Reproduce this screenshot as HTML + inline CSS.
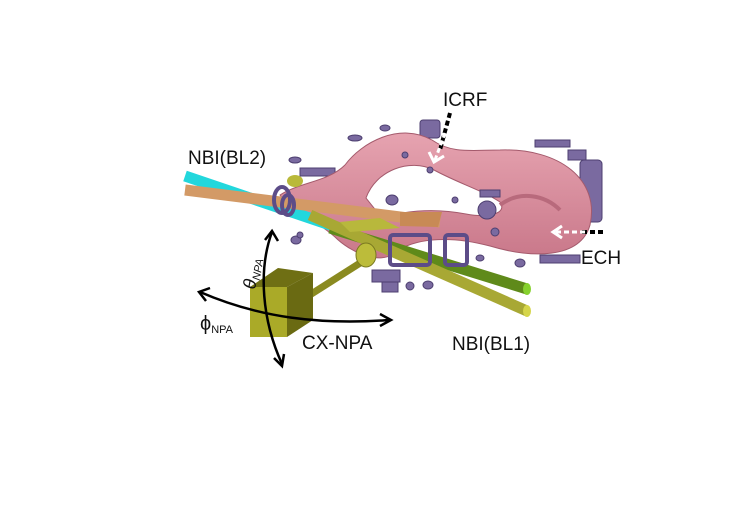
<!DOCTYPE html>
<html><head><meta charset="utf-8"><style>
html,body{margin:0;padding:0;background:#fff;width:750px;height:511px;overflow:hidden}
svg{display:block}
text{font-family:"Liberation Sans",sans-serif;fill:#111}
</style></head><body>
<svg width="750" height="511" viewBox="0 0 750 511">
<defs>
<linearGradient id="pk" x1="0" y1="0" x2="0" y2="1"><stop offset="0" stop-color="#e6a3b0"/><stop offset="1" stop-color="#c9788a"/></linearGradient>
</defs>
<g fill="#7a6aa0" stroke="#4d3f70" stroke-width="1">
<ellipse cx="355" cy="138" rx="7" ry="3"/><ellipse cx="385" cy="128" rx="5" ry="3"/><ellipse cx="378" cy="158" rx="5" ry="3"/>
<rect x="420" y="120" width="20" height="18" rx="3"/><ellipse cx="295" cy="160" rx="6" ry="3"/>
<rect x="300" y="168" width="35" height="8"/><ellipse cx="296" cy="240" rx="5" ry="4"/><ellipse cx="300" cy="235" rx="3" ry="3"/>
<rect x="535" y="140" width="35" height="7"/><rect x="568" y="150" width="18" height="10"/>
<rect x="580" y="160" width="22" height="62" rx="4"/><ellipse cx="570" cy="230" rx="10" ry="9"/>
<rect x="540" y="255" width="40" height="8"/><ellipse cx="520" cy="263" rx="5" ry="4"/>
<ellipse cx="410" cy="286" rx="4" ry="4"/><ellipse cx="428" cy="285" rx="5" ry="4"/>
<rect x="372" y="270" width="28" height="12"/><rect x="382" y="282" width="16" height="10"/>
<ellipse cx="480" cy="258" rx="4" ry="3"/><ellipse cx="437" cy="268" rx="5" ry="3"/>
<ellipse cx="345" cy="180" rx="5" ry="3"/>
</g>
<path fill="url(#pk)" stroke="#a45a6c" stroke-width="1" fill-rule="evenodd"
d="M280,195 C300,182 328,182 345,165 C362,142 400,122 432,140 C452,154 472,150 500,150 C560,148 600,180 590,225 C580,260 530,258 490,246 C445,234 412,240 396,252 C380,266 350,252 335,237 C312,217 290,210 280,195 Z
M366,198 C376,170 410,158 434,170 C460,184 482,190 500,202 C508,214 488,218 466,214 C430,207 400,212 382,218 Z"/>
<path d="M500,205 C520,190 545,195 560,210" stroke="#b86a7c" stroke-width="4" fill="none"/>
<g fill="#7a6aa0" stroke="#4d3f70" stroke-width="1">
<ellipse cx="392" cy="200" rx="6" ry="5"/><ellipse cx="455" cy="200" rx="3" ry="3"/><ellipse cx="487" cy="210" rx="9" ry="9"/>
<rect x="480" y="190" width="20" height="7"/><ellipse cx="430" cy="170" rx="3" ry="3"/><ellipse cx="405" cy="155" rx="3" ry="3"/>
<ellipse cx="420" cy="220" rx="3" ry="3"/><ellipse cx="495" cy="232" rx="4" ry="4"/>
</g>
<line x1="185" y1="176" x2="345" y2="230" stroke="#22d7dc" stroke-width="11"/>
<line x1="185" y1="190" x2="440" y2="222" stroke="#d39a66" stroke-width="11"/>
<polygon points="400,212 442,212 438,227 400,226" fill="#c88a55"/>
<line x1="330" y1="228" x2="527" y2="289" stroke="#5f8a1a" stroke-width="11"/>
<ellipse cx="527" cy="289" rx="4" ry="6" fill="#86d12e"/>
<line x1="310" y1="215" x2="527" y2="311" stroke="#a8a834" stroke-width="11"/>
<ellipse cx="527" cy="311" rx="4" ry="6" fill="#d5d54a"/>
<polygon points="340,222 380,218 400,228 350,232" fill="#b8b83c"/>
<g fill="none" stroke="#5c4c88" stroke-width="4">
<rect x="390" y="235" width="40" height="30" rx="3"/><rect x="445" y="235" width="22" height="30" rx="3"/>
<ellipse cx="282" cy="200" rx="8" ry="13"/><ellipse cx="288" cy="205" rx="6" ry="10"/>
</g>
<ellipse cx="295" cy="181" rx="8" ry="6" fill="#b9b93a"/>
<line x1="305" y1="298" x2="368" y2="258" stroke="#8a8a20" stroke-width="7"/>
<ellipse cx="366" cy="255" rx="10" ry="12" fill="#bcbc3a" stroke="#7a7a20"/>
<polygon points="250,287 278,268 313,273 287,287" fill="#6f6f14"/>
<polygon points="287,287 313,273 313,320 287,337" fill="#6a6a12"/>
<rect x="250" y="287" width="37" height="50" fill="#aaaa28"/>
<g fill="none" stroke="#000" stroke-width="2.5">
<path d="M272,232 C258,270 262,320 282,364"/>
<path d="M265,240 L272,231 L278,241"/><path d="M274,358 L282,366 L284,354"/>
<path d="M200,292 C260,318 320,325 390,320"/>
<path d="M210,288 L199,292 L206,301"/><path d="M380,314 L391,320 L380,326"/>
</g>
<path d="M450,113 L440,150" stroke="#000" stroke-width="4" stroke-dasharray="5,3"/>
<path d="M445,133 L435,160" stroke="#fff" stroke-width="3" stroke-dasharray="5,3"/>
<path d="M429,152 L434,162 L444,156" stroke="#fff" stroke-width="3" fill="none"/>
<path d="M603,232 L580,232" stroke="#000" stroke-width="4" stroke-dasharray="5,3"/>
<path d="M585,232 L555,232" stroke="#fff" stroke-width="3" stroke-dasharray="5,3"/>
<path d="M562,226 L553,232 L562,238" stroke="#fff" stroke-width="3" fill="none"/>
<text x="188" y="164" font-size="19">NBI(BL2)</text>
<text x="443" y="106" font-size="19">ICRF</text>
<text x="581" y="264" font-size="19">ECH</text>
<text x="452" y="350" font-size="19">NBI(BL1)</text>
<text x="302" y="349" font-size="19">CX-NPA</text>
<text transform="translate(255,290) rotate(-80)" font-size="18" font-style="italic">θ<tspan font-size="11" dy="3">NPA</tspan></text>
<text x="200" y="330" font-size="20">ϕ<tspan font-size="11" dy="3">NPA</tspan></text>
</svg>
</body></html>
